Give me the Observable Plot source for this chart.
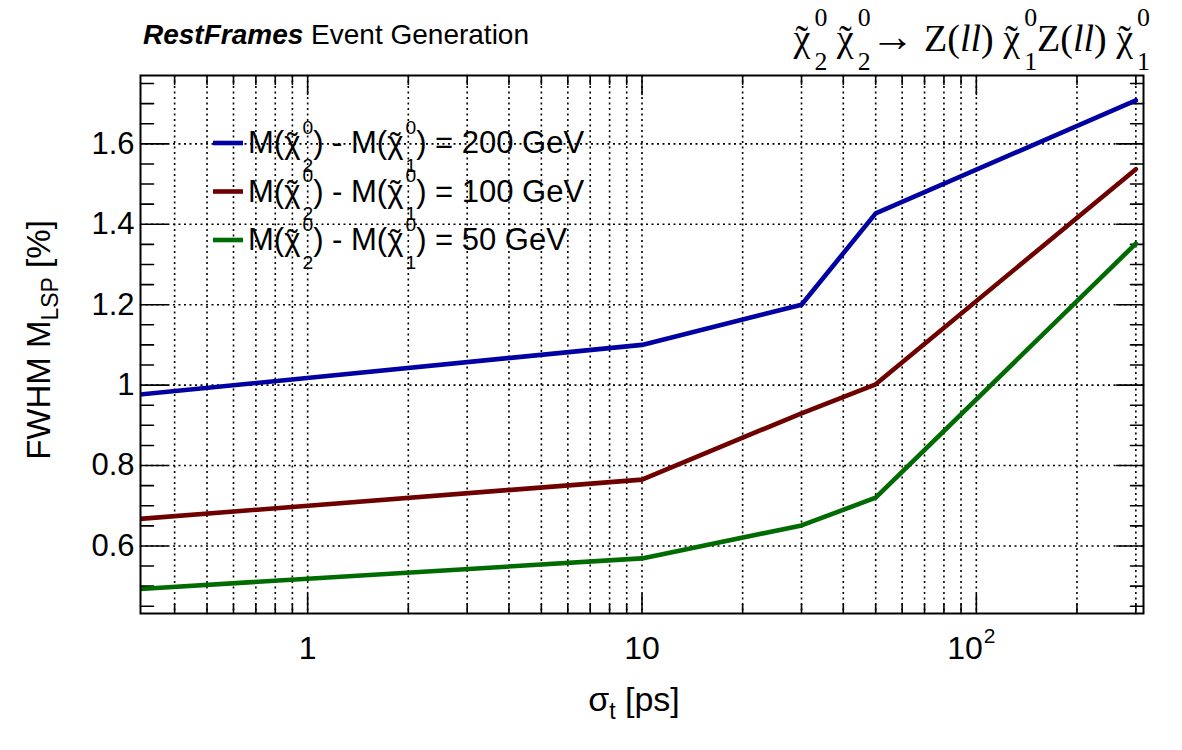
<!DOCTYPE html>
<html>
<head>
<meta charset="utf-8">
<script src="https://cdn.jsdelivr.net/npm/d3@7"></script>
<script src="https://cdn.jsdelivr.net/npm/@observablehq/plot@0.6"></script>
<style>
  html, body { margin: 0; padding: 0; background: #fff; }
  #chart svg { display: block; }
</style>
</head>
<body>
<div id="chart"></div>
<script>
// Timing resolution sigma_t [ps] of each scan point
const sigmaT = [0.3, 10, 30, 50, 300];
// FWHM of the reconstructed LSP mass [%], one array per mass splitting
const fwhmDM200 = [0.975, 1.10, 1.20, 1.427, 1.708];
const fwhmDM100 = [0.666, 0.765, 0.93, 1.002, 1.537];
const fwhmDM50 = [0.492, 0.569, 0.651, 0.72, 1.352];
// Mass splitting M(chi2) - M(chi1), and line colours
const massSplits = ["200 GeV", "100 GeV", "50 GeV"];
const seriesColors = ["#0000a3", "#6e0000", "#006b00"];
// Axis ticks
const xMajorTicks = [1, 10, 100];
const xMinorTicks = [0.4, 0.5, 0.6, 0.7, 0.8, 0.9, 2, 3, 4, 5, 6, 7, 8, 9,
                     20, 30, 40, 50, 60, 70, 80, 90, 200, 300];
const xTickBases = ["1", "10", "10"];
const xTickExponents = ["", "", "2"];
const yMajorTicks = [0.6, 0.8, 1.0, 1.2, 1.4, 1.6];
const yMinorTicks = [0.45, 0.5, 0.55, 0.65, 0.7, 0.75, 0.85, 0.9, 0.95, 1.05, 1.1, 1.15,
                     1.25, 1.3, 1.35, 1.45, 1.5, 1.55, 1.65, 1.7, 1.75];

const seriesValues = [fwhmDM200, fwhmDM100, fwhmDM50];
const rows = seriesValues.flatMap((vals, i) =>
  vals.map((v, j) => ({sigma: sigmaT[j], fwhm: v, split: massSplits[i]})));

const W = 1182, H = 750;
const ML = 140, MR = 39, MT = 75, MB = 137;
const sans = "'Liberation Sans', Arial, Helvetica, sans-serif";
const serif = "'Liberation Serif', 'Times New Roman', serif";

// straight tick stroke used by the vector marks
const tickShape = {draw(context, l) { context.moveTo(0, 0); context.lineTo(0, -l); }};
const ticks = (values, scale, anchor, rotate, length) => {
  const opts = {frameAnchor: anchor, rotate, length, anchor: "start", shape: tickShape,
                stroke: "black", strokeWidth: 1.6};
  return scale === "x" ? Plot.vectorX(values, {x: d => d, ...opts})
                       : Plot.vectorY(values, {y: d => d, ...opts});
};
const dotted = {stroke: "black", strokeWidth: 1.6, strokeDasharray: "2,3.5"};

const chart = Plot.plot({
  width: W, height: H,
  marginLeft: ML, marginRight: MR, marginTop: MT, marginBottom: MB,
  style: {fontFamily: sans, background: "white", color: "black"},
  x: {type: "log", domain: [Math.pow(10, -0.5), Math.pow(10, 2.5)], label: null},
  y: {domain: [0.432, 1.77], label: null},
  color: {domain: massSplits, range: seriesColors},
  marks: [
    Plot.ruleX([...xMajorTicks, ...xMinorTicks], dotted),
    Plot.ruleY(yMajorTicks, dotted),
    ticks(xMajorTicks, "x", "bottom", 0, 19),
    ticks(xMinorTicks, "x", "bottom", 0, 9),
    ticks(xMajorTicks, "x", "top", 180, 19),
    ticks(xMinorTicks, "x", "top", 180, 9),
    ticks(yMajorTicks, "y", "left", 90, 27),
    ticks(yMinorTicks, "y", "left", 90, 13),
    ticks(yMajorTicks, "y", "right", -90, 27),
    ticks(yMinorTicks, "y", "right", -90, 13),
    Plot.line(rows, {x: "sigma", y: "fwhm", z: "split", stroke: "split",
                     strokeWidth: 4.6, clip: true}),
    Plot.frame({stroke: "black", strokeWidth: 2}),
    Plot.axisX(xMajorTicks, {tickSize: 0, tickPadding: 23, fontSize: 32,
      tickFormat: d => xTickBases[xMajorTicks.indexOf(d)], label: null}),
    Plot.axisY(yMajorTicks, {tickSize: 0, tickPadding: 6, fontSize: 31,
      tickFormat: d => String(+d.toFixed(1)), label: null})
  ]
});
document.getElementById("chart").appendChild(chart);

const svg = d3.select(chart);

// raised exponent on the decade labels
svg.selectAll("g[aria-label='x-axis tick label'] text").each(function(d, i) {
  const exp = xTickExponents[i];
  if (!exp) return;
  const node = d3.select(this);
  node.attr("dx", -5);
  node.append("tspan").attr("font-size", 21).attr("dx", 1).attr("dy", -16).text(exp);
});

function measure(str, family, fs) {
  const t = svg.append("text").attr("font-family", family).attr("font-size", fs).text(str);
  const w = t.node().getComputedTextLength();
  t.remove();
  return w;
}

// neutralino symbol: chi with a tilde, stacked superscript 0 and subscript index
function chi(text, index, fs, family, opt = {}) {
  const s = fs * (opt.scale || 0.62);
  const up = fs * (opt.up || 0.62), down = fs * (opt.down || 0.6);
  const tildeDy = fs * (opt.tildeDy || 0.05);
  const wChi = measure("\u03c7", family, fs);
  const wTil = measure("\u02dc", family, fs);
  const wSup = measure("0", family, s);
  text.append("tspan").text("\u03c7");
  text.append("tspan").attr("dx", -(wChi + wTil) / 2).attr("dy", tildeDy).text("\u02dc");
  text.append("tspan").attr("font-size", s).attr("dx", (wChi - wTil) / 2 + (opt.gap || 2))
    .attr("dy", -tildeDy - up).text("0");
  text.append("tspan").attr("font-size", s).attr("dx", -wSup).attr("dy", up + down).text(index);
  return -down;
}

// header: generator tag
const head = svg.append("text").attr("x", 143).attr("y", 44).attr("text-anchor", "start")
  .attr("font-family", sans).attr("font-size", 28);
head.append("tspan").attr("font-weight", "bold").attr("font-style", "italic").text("RestFrames");
head.append("tspan").text(" Event Generation");

// header: decay chain
{
  const fs = 38;
  const o = {scale: 0.68, up: 0.66, down: 0.5, tildeDy: 0.02, gap: 4};
  const t = svg.append("text").attr("x", 1150).attr("y", 51).attr("text-anchor", "end")
    .attr("font-family", serif).attr("font-size", fs);
  let back = chi(t, "2", fs, serif, o);
  t.append("tspan").attr("dy", back).text("\u00a0");
  back = chi(t, "2", fs, serif, o);
  t.append("tspan").attr("dy", back).attr("font-size", 44).text("\u2192");
  t.append("tspan").text(" Z(");
  t.append("tspan").attr("font-style", "italic").text("ll");
  t.append("tspan").text(")\u00a0");
  back = chi(t, "1", fs, serif, o);
  t.append("tspan").attr("dy", back).text("Z(");
  t.append("tspan").attr("font-style", "italic").text("ll");
  t.append("tspan").text(")\u00a0");
  chi(t, "1", fs, serif, o);
}

// legend
massSplits.forEach((label, i) => {
  const cy = 143 + i * 48.5;
  svg.append("line").attr("x1", 213).attr("x2", 243).attr("y1", cy).attr("y2", cy)
    .attr("stroke", seriesColors[i]).attr("stroke-width", 4.6);
  const fs = 31;
  const t = svg.append("text").attr("x", 248).attr("y", cy + 10).attr("text-anchor", "start")
    .attr("font-family", sans).attr("font-size", fs);
  t.append("tspan").text("M(");
  let back = chi(t, "2", fs, sans);
  t.append("tspan").attr("dy", back).text(") - M(");
  back = chi(t, "1", fs, sans);
  t.append("tspan").attr("dy", back).text(") = " + label);
});

// axis titles
{
  const t = svg.append("text").attr("transform", "translate(50,340) rotate(-90)")
    .attr("text-anchor", "middle").attr("font-family", sans).attr("font-size", 33);
  t.append("tspan").text("FWHM M");
  t.append("tspan").attr("font-size", 23).attr("dy", 8).text("LSP");
  t.append("tspan").attr("dy", -8).text(" [%]");

  const x = svg.append("text").attr("x", 634).attr("y", 711)
    .attr("text-anchor", "middle").attr("font-family", sans).attr("font-size", 34);
  x.append("tspan").text("\u03c3");
  x.append("tspan").attr("font-size", 23).attr("dy", 8).text("t");
  x.append("tspan").attr("dy", -8).text(" [ps]");
}
</script>
</body>
</html>
